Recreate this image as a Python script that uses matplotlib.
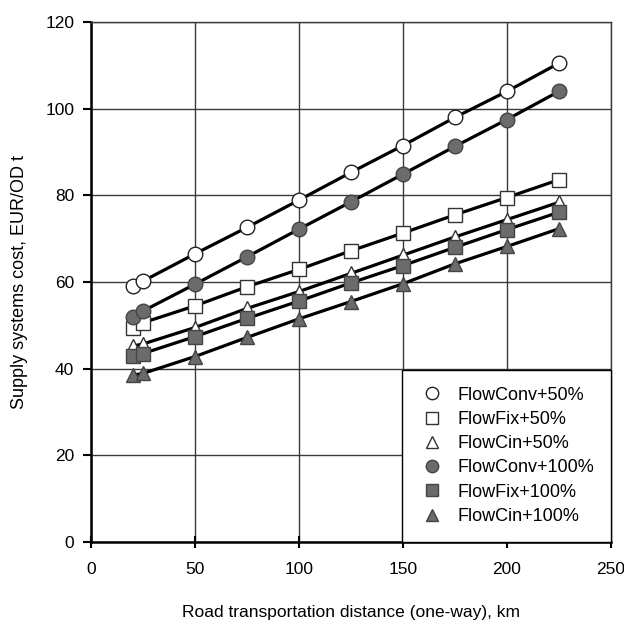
import matplotlib
matplotlib.use("Agg")
import matplotlib.pyplot as plt

plt.rcParams['font.family'] = ['Liberation Sans', 'DejaVu Sans']

distance_km = [20, 25, 50, 75, 100, 125, 150, 175, 200, 225]
flowconv_50 = [59.1, 60.2, 66.5, 72.6, 78.9, 85.3, 91.5, 98.0, 104.0, 110.5]
flowfix_50 = [49.5, 50.6, 54.5, 58.9, 62.9, 67.2, 71.3, 75.5, 79.5, 83.6]
flowcin_50 = [45.2, 45.7, 49.5, 53.9, 57.8, 62.0, 66.2, 70.4, 74.4, 78.4]
flowconv_100 = [52.0, 53.3, 59.5, 65.8, 72.2, 78.5, 84.9, 91.3, 97.5, 104.0]
flowfix_100 = [42.9, 43.5, 47.4, 51.6, 55.6, 59.8, 63.8, 68.0, 72.1, 76.1]
flowcin_100 = [38.5, 38.9, 42.8, 47.2, 51.5, 55.5, 59.6, 64.2, 68.2, 72.3]

series_labels = ["FlowConv+50%", "FlowFix+50%", "FlowCin+50%",
                 "FlowConv+100%", "FlowFix+100%", "FlowCin+100%"]
series_values = [flowconv_50, flowfix_50, flowcin_50,
                 flowconv_100, flowfix_100, flowcin_100]

x_ticks = [0, 50, 100, 150, 200, 250]
y_ticks = [0, 20, 40, 60, 80, 100, 120]

markers = ['o', 's', '^', 'o', 's', '^']
sizes = [10.5, 9.5, 10.5, 10.5, 9.5, 10.5]
faces = ['white', 'white', 'white', '#6b6b6b', '#6b6b6b', '#6b6b6b']
edges = ['#222222', '#333333', '#333333', '#444444', '#444444', '#444444']

fig = plt.figure(figsize=(6.24, 6.23), dpi=100)
ax = fig.add_axes([91/624, 1-542/623, 520/624, 520/623])

for vals in series_values:
    ax.plot(distance_km, vals, color='black', lw=2.3, zorder=3)
for vals, lab, m, s, fc, ec in zip(series_values, series_labels, markers, sizes, faces, edges):
    ax.plot(distance_km, vals, linestyle='none', marker=m, markersize=s,
            markerfacecolor=fc, markeredgecolor=ec, markeredgewidth=1.0,
            label=lab, zorder=4)

ax.set_xlim(0, 250)
ax.set_ylim(0, 120)
ax.set_xticks(x_ticks)
ax.set_yticks(y_ticks)
ax.grid(True, color='#3a3a3a', lw=1.0, zorder=0)
ax.set_axisbelow(True)

for side in ['left', 'bottom']:
    ax.spines[side].set_linewidth(1.8)
    ax.spines[side].set_color('black')
for side in ['top', 'right']:
    ax.spines[side].set_linewidth(1.0)
    ax.spines[side].set_color('#3a3a3a')

ax.tick_params(axis='y', direction='out', length=6, width=1.5, labelsize=12.5, pad=6)
ax.tick_params(axis='x', direction='inout', length=9, width=1.5, labelsize=12.5, pad=10)

ax.set_xlabel("Road transportation distance (one-way), km", fontsize=12.5)
ax.xaxis.set_label_coords(0.5, (542 - 612) / 520)
ax.xaxis.label.set_va('center')
ax.set_ylabel("Supply systems cost, EUR/OD t", fontsize=13)
ax.yaxis.set_label_coords((20 - 91) / 520, 0.5)
ax.yaxis.label.set_va('center')

leg = ax.legend(loc='lower right', borderaxespad=0, fancybox=False,
                edgecolor='black', framealpha=1, fontsize=13,
                markerscale=0.85, handlelength=1.4, handletextpad=0.7,
                labelspacing=0.4, borderpad=0.95)
leg.get_frame().set_linewidth(1.0)
leg.set_zorder(5)

fig.savefig("out.png", dpi=100)
